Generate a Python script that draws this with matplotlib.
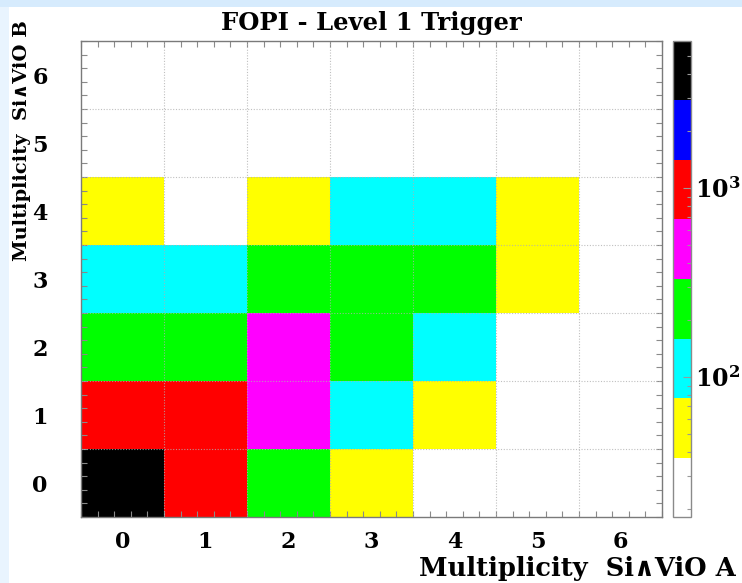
import numpy as np
import matplotlib
matplotlib.use("Agg")
import matplotlib.pyplot as plt
from matplotlib.colors import ListedColormap, LogNorm
from matplotlib.patches import Rectangle
from matplotlib.ticker import FixedLocator, LogLocator, FuncFormatter, NullFormatter

# Trigger counts per multiplicity pair (rows: SiVio B = 0..6, columns: SiVio A = 0..6)
mult_a = [0, 1, 2, 3, 4, 5, 6]
mult_b = [0, 1, 2, 3, 4, 5, 6]
row_b0 = [4500, 1100, 260, 60, 25, 12, 5]
row_b1 = [1050, 950, 420, 120, 55, 24, 10]
row_b2 = [270, 240, 400, 210, 105, 28, 14]
row_b3 = [100, 115, 200, 220, 190, 60, 22]
row_b4 = [50, 30, 50, 90, 95, 48, 20]
row_b5 = [15, 12, 10, 8, 6, 5, 4]
row_b6 = [5, 4, 3, 3, 2, 2, 1]

level_colors = ["#ffffff", "#ffff00", "#00ffff", "#00ff00",
                "#ff00ff", "#ff0000", "#0000ff", "#000000"]
count_min = 10 ** 1.259
count_max = 10 ** 3.778

counts = np.array([row_b0, row_b1, row_b2, row_b3, row_b4, row_b5, row_b6], dtype=float)

plt.rcParams["mathtext.fontset"] = "dejavuserif"

W, H = 742, 583
fig = plt.figure(figsize=(W / 100, H / 100), dpi=100)
fig.patch.set_facecolor("white")
# light blue frame strips along the top and left edge
fig.patches.append(Rectangle((0, 1 - 7 / H), 1, 7 / H, transform=fig.transFigure,
                             facecolor="#d6ebfd", edgecolor="none", zorder=0))
fig.patches.append(Rectangle((0, 0), 9 / W, 1 - 7 / H, transform=fig.transFigure,
                             facecolor="#e9f4fe", edgecolor="none", zorder=0))

ax = fig.add_axes([81 / W, 1 - 517 / H, 581 / W, 476 / H])
cax = fig.add_axes([673 / W, 1 - 517 / H, 18 / W, 476 / H])

cmap = ListedColormap(level_colors)
cmap.set_under("white")
norm = LogNorm(vmin=count_min, vmax=count_max)

x_edges = np.arange(len(mult_a) + 1) - 0.5
y_edges = np.arange(len(mult_b) + 1) - 0.5
mesh = ax.pcolormesh(x_edges, y_edges, counts, cmap=cmap, norm=norm, zorder=1)

ax.set_xlim(x_edges[0], x_edges[-1])
ax.set_ylim(y_edges[0], y_edges[-1])

# dotted grid at the cell boundaries
for xb in x_edges[1:-1]:
    ax.axvline(xb, color="#b0b0b0", lw=0.8, ls=(0, (1, 1.5)), zorder=2, alpha=0.8)
for yb in y_edges[1:-1]:
    ax.axhline(yb, color="#b0b0b0", lw=0.8, ls=(0, (1, 1.5)), zorder=2, alpha=0.8)

tick_font = dict(family="DejaVu Serif", weight="bold", size=16)
ax.set_xticks(mult_a)
ax.set_yticks(mult_b)
ax.set_xticklabels([str(v) for v in mult_a], fontdict=tick_font)
ax.set_yticklabels([str(v) for v in mult_b], fontdict=tick_font)
ax.tick_params(axis="x", which="major", length=0, pad=10)
ax.tick_params(axis="y", which="major", length=0, pad=24)
ax.xaxis.set_minor_locator(FixedLocator(np.arange(-0.5, 6.51, 0.2)))
ax.yaxis.set_minor_locator(FixedLocator(np.arange(-0.5, 6.51, 0.2)))
ax.tick_params(which="minor", direction="in", length=4, width=0.8, color="#8a8a8a",
               top=True, right=True, bottom=True, left=True)
for sp in ax.spines.values():
    sp.set_color("#7a7a7a")
    sp.set_linewidth(1.0)

ax.set_title("FOPI - Level 1 Trigger", family="DejaVu Serif", weight="bold",
             size=17.5, pad=8)

label_font = ["DejaVu Serif", "DejaVu Sans"]
ax.set_xlabel("Multiplicity  Si\u2227ViO A", family=label_font, weight="bold",
              size=18.5, loc="right")
ax.xaxis.set_label_coords((736 - 81) / 581, (517 - 556) / 476)
ax.set_ylabel("Multiplicity  Si\u2227ViO B", family=label_font, weight="bold",
              size=14)
ax.yaxis.label.set(rotation_mode="default", ha="center", va="top")
ax.yaxis.set_label_coords((22 - 81) / 581, (517 - 20) / 476)

cb = fig.colorbar(mesh, cax=cax)
cb.outline.set_edgecolor("#8a8a8a")
cb.outline.set_linewidth(1.0)
cax.yaxis.set_major_locator(LogLocator(base=10))
cax.yaxis.set_major_formatter(FuncFormatter(
    lambda v, p: r"$\mathbf{10^{%d}}$" % round(np.log10(v))))
cax.yaxis.set_minor_formatter(NullFormatter())
cax.tick_params(which="both", direction="in", color="#9a9a9a", width=0.8, right=True)
cax.tick_params(which="major", length=6, pad=3, labelsize=17)
cax.tick_params(which="minor", length=3)

fig.savefig("out.png", dpi=100)
